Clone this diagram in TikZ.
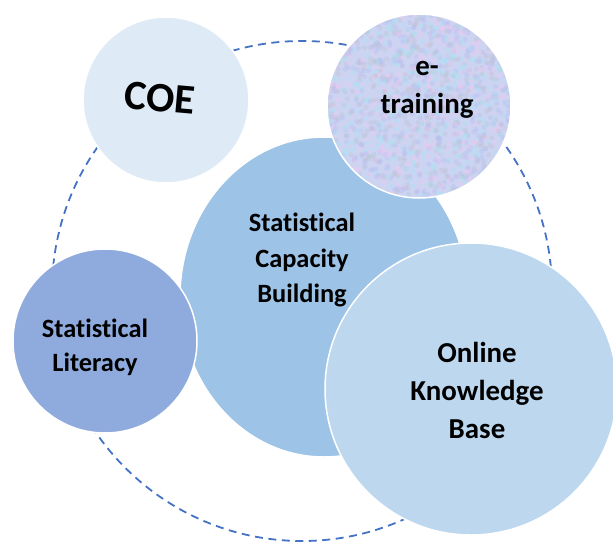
\documentclass[tikz,border=0pt]{standalone}
\usepackage{fontspec}
\setmainfont{Carlito}[Ligatures={NoCommon}]
\usetikzlibrary{shapes.geometric}

\definecolor{dashblue}{RGB}{68,114,196}
\definecolor{coefill}{RGB}{222,235,247}
\definecolor{corefill}{RGB}{157,195,230}
\definecolor{litfill}{RGB}{143,170,220}
\definecolor{okbfill}{RGB}{189,215,238}
\definecolor{etrfill}{RGB}{204,212,242}
\definecolor{texpink}{RGB}{236,200,240}
\definecolor{texcyan}{RGB}{170,228,244}
\definecolor{texlilac}{RGB}{184,190,240}
\definecolor{texgrey}{RGB}{190,196,212}

\tikzset{
	bubble/.style={circle, draw=white, line width=1.5bp, inner sep=0pt},
	bubbletext/.style={align=center, font=\bfseries, text=black},
	ring/.style={draw=dashblue, line width=1.8bp, dash pattern=on 8bp off 5.5bp},
}

\begin{document}
\begin{tikzpicture}[x=1bp,y=-1bp]
		    \useasboundingbox (0,0) rectangle (613,544);
		    \pgfmathsetseed{11}
		    \pgfmathdeclarerandomlist{texcolors}{{texpink}{texcyan}{texlilac}{texgrey}}

		    % Ring:
		    % The dashed circle runs behind all the bubbles
		    \coordinate (hub) at (302,291);
		    \draw [ring] (hub) circle (250);

		    % Bubbles:
		    \node [bubble, ellipse, fill=corefill, minimum width=288bp, minimum height=320bp] (core) at (324,297) {};
		    \node [bubble, fill=coefill, minimum size=166bp] (coe) at (166,100) {};
		    \node [bubble, fill=etrfill, minimum size=184bp,
		        path picture={%
		            \foreach \k in {1,...,1800}{%
		                \pgfmathsetmacro{\px}{rand*94}
		                \pgfmathsetmacro{\py}{rand*94}
		                \pgfmathrandomitem{\c}{texcolors}
		                \fill [\c, opacity=0.4] ([shift={(\px bp,\py bp)}]path picture bounding box.center) circle (2.6bp);
		            }
		        }] (etr) at (419,106) {};
		    \node [bubble, fill=litfill, minimum size=184bp] (lit) at (105,341) {};
		    \node [bubble, fill=okbfill, minimum size=292bp] (okb) at (471,389) {};

		    % Labels:
		    % Placed with a small shift from the bubble centres
		    \node [bubbletext, font=\fontsize{42}{50}\selectfont\bfseries, rotate=-5] (coetext) at ([shift={(-6,-2)}]coe.center) {COE};
		    \node [bubbletext, font=\fontsize{26.5}{36}\selectfont\bfseries] (coretext) at ([shift={(-22,-37)}]core.center) {Statistical\\Capacity\\Building};
		    \node [bubbletext, font=\fontsize{29}{38}\selectfont\bfseries] (etrtext) at ([shift={(8,-16)}]etr.center) {e-\\training};
		    \node [bubbletext, font=\fontsize{26.5}{34}\selectfont\bfseries] (littext) at ([shift={(-10,6.5)}]lit.center) {Statistical\\Literacy};
		    \node [bubbletext, font=\fontsize{29}{38.5}\selectfont\bfseries] (okbtext) at ([shift={(6,1.5)}]okb.center) {Online\\Knowledge\\Base};
\end{tikzpicture}
\end{document}
